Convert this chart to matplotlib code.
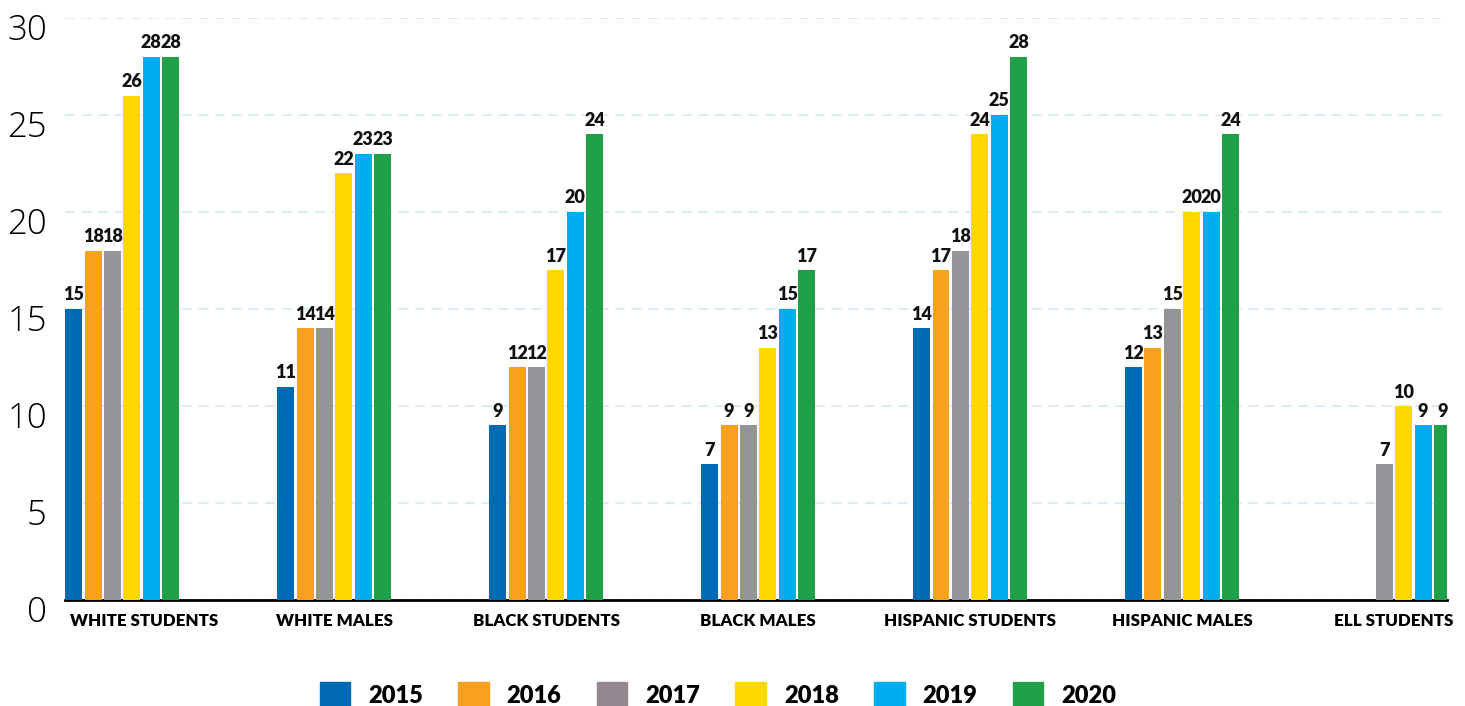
import numpy as np
import matplotlib.pyplot as plt
import matplotlib.transforms as mtransforms
from matplotlib.patches import Patch

# data
categories = ['WHITE STUDENTS', 'WHITE MALES', 'BLACK STUDENTS', 'BLACK MALES',
              'HISPANIC STUDENTS', 'HISPANIC MALES', 'ELL STUDENTS']
years = ['2015', '2016', '2017', '2018', '2019', '2020']
v2015 = [15, 11, 9, 7, 14, 12, np.nan]
v2016 = [18, 14, 12, 9, 17, 13, np.nan]
v2017 = [18, 14, 12, 9, 18, 15, 7]
v2018 = [26, 22, 17, 13, 24, 20, 10]
v2019 = [28, 23, 20, 15, 25, 20, 9]
v2020 = [28, 23, 24, 17, 28, 24, 9]
series = [v2015, v2016, v2017, v2018, v2019, v2020]
colors = ['#0069b4', '#f8a01f', '#939598', '#ffd800', '#00aeef', '#1fa14a']
legend_colors = ['#0069b4', '#f8a01f', '#92878f', '#ffd800', '#00aeef', '#1fa14a']

bold_font = ['Lato', 'DejaVu Sans']

fig = plt.figure(figsize=(14.65, 7.06), dpi=100)
ax = fig.add_axes([0.0444, 0.150, 0.9433, 0.8245])

x = np.arange(len(categories))
step = 0.0915
width = 0.08
for j, vals in enumerate(series):
    bars = ax.bar(x + (j - 2.5) * step, vals, width, color=colors[j], zorder=3)
    labels = ['' if np.isnan(v) else f'{int(v)}' for v in vals]
    ax.bar_label(bars, labels=labels, padding=4, fontsize=13, fontweight='heavy',
                 family=bold_font, color='#111111')

ax.set_xlim(-0.27, 6.25)
ax.set_ylim(0, 30)
ax.set_yticks(range(0, 31, 5))
ax.yaxis.grid(True, color='#cfeaf6', linestyle=(0, (6, 4)), linewidth=1.2, zorder=0)
ax.set_axisbelow(True)

for s in ['top', 'right', 'left']:
    ax.spines[s].set_visible(False)
ax.spines['bottom'].set_linewidth(2)
ax.spines['bottom'].set_color('black')

ax.tick_params(axis='y', length=0, pad=13, labelsize=25)
shift_down = mtransforms.ScaledTranslation(0, -0.09, fig.dpi_scale_trans)
for t in ax.get_yticklabels():
    t.set_family(['Open Sans', 'DejaVu Sans'])
    t.set_fontweight('light')
    t.set_transform(t.get_transform() + shift_down)

ax.set_xticks(x)
ax.set_xticklabels(categories)
ax.tick_params(axis='x', length=0, pad=9)
for t in ax.get_xticklabels():
    t.set_family(bold_font)
    t.set_fontweight('heavy')
    t.set_fontsize(12.2)
# first label sits a bit right of its bar group in the original
first = ax.get_xticklabels()[0]
first.set_transform(first.get_transform() +
                    mtransforms.ScaledTranslation(0.22, 0, fig.dpi_scale_trans))

handles = [Patch(color=c, label=y) for c, y in zip(legend_colors, years)]
fig.legend(handles=handles, loc='center', bbox_to_anchor=(0.49, 0.016),
           ncol=6, frameon=False, handlelength=1.3, handleheight=1.25,
           handletextpad=0.75, columnspacing=1.5,
           prop={'family': bold_font, 'weight': 'heavy', 'size': 17})

fig.savefig('out.png', dpi=100)
